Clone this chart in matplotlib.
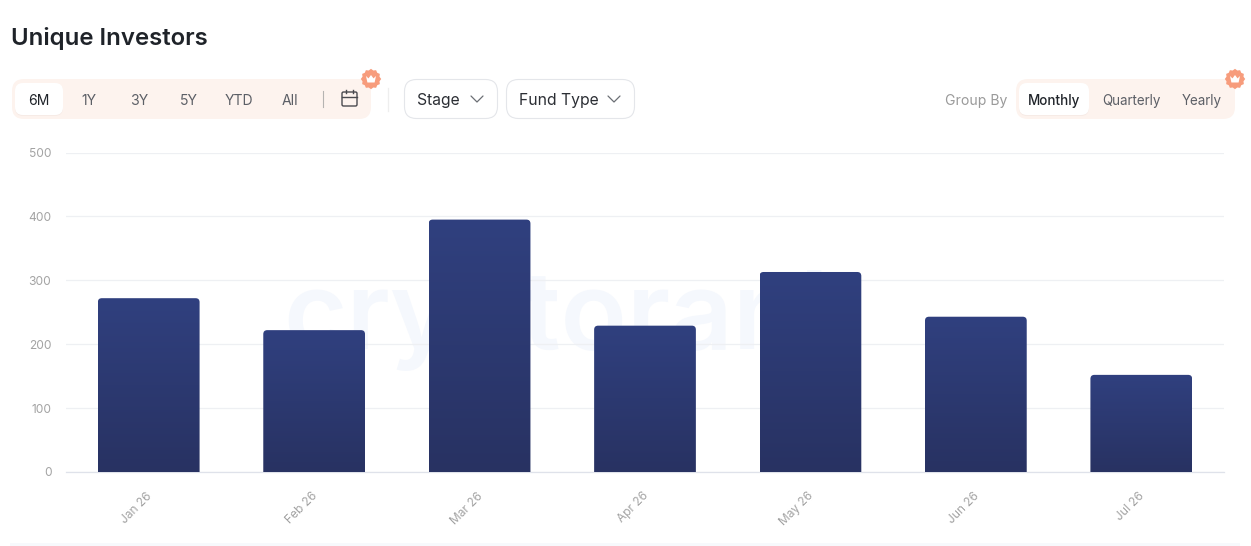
import numpy as np
import matplotlib
matplotlib.use("Agg")
import matplotlib.pyplot as plt
from matplotlib.patches import FancyBboxPatch, PathPatch, Rectangle
from matplotlib.path import Path
from matplotlib.colors import LinearSegmentedColormap
from matplotlib.transforms import ScaledTranslation

months = ["Jan 26", "Feb 26", "Mar 26", "Apr 26", "May 26", "Jun 26", "Jul 26"]
investors = [272, 222, 395, 229, 313, 243, 152]
y_ticks = [0, 100, 200, 300, 400, 500]
range_buttons = ["6M", "1Y", "3Y", "5Y", "YTD", "All"]
group_buttons = ["Monthly", "Quarterly", "Yearly"]

W, H = 1251, 546
plt.rcParams["font.family"] = ["Inter", "Noto Sans", "DejaVu Sans"]


def px(size):
    # css pixels to points at dpi 100
    return size * 0.72


fig = plt.figure(figsize=(W / 100, H / 100), dpi=100, facecolor="white")

# page layer, everything here is in pixels
ui = fig.add_axes([0, 0, 1, 1], zorder=0)
ui.set_xlim(0, W)
ui.set_ylim(H, 0)
ui.axis("off")


def box(x0, y0, x1, y1, r, face, edge="none", lw=0, z=2):
    p = FancyBboxPatch((x0 + r, y0 + r), x1 - x0 - 2 * r, y1 - y0 - 2 * r,
                       boxstyle=f"round,pad={r},rounding_size={r}",
                       fc=face, ec=edge, lw=lw, zorder=z)
    ui.add_patch(p)


def label(x, y, s, size, color, weight="normal", ha="center"):
    ui.text(x, y, s, fontsize=px(size), color=color, weight=weight,
            ha=ha, va="center_baseline", zorder=5)


def chevron(x, y):
    ui.plot([x - 6, x, x + 6], [y - 3, y + 3, y - 3], color="#6b6f75", lw=0.9,
            solid_capstyle="round", solid_joinstyle="round", zorder=5)


def badge(x, y):
    ang = np.linspace(0, 2 * np.pi, 25)
    rad = np.where(np.arange(25) % 2 == 0, 10.2, 8.8)
    ui.fill(x + rad * np.sin(ang), y - rad * np.cos(ang), color="#f79c7c", lw=0, zorder=6)
    cx = np.array([-5, -2.5, 0, 2.5, 5, 3.6, -3.6])
    cy = np.array([-3, -0.6, -4, -0.6, -3, 3.5, 3.5])
    ui.fill(x + cx, y + cy, color="white", lw=0, zorder=7)


# watermark sits behind the grid and bars
ui.text(283, 349, "cryptorank", fontsize=px(109), color="#f5f8fd", weight="semibold",
        ha="left", va="baseline", zorder=1)

label(11, 36, "Unique Investors", 24, "#1f2329", weight="semibold", ha="left")

# period selector
box(12, 79, 371, 119, 12, "#fdf3ee")
box(15, 84, 63, 116, 8, "#f6ebe6", z=2.5)
box(15, 83, 63, 115, 8, "white", z=3)
range_x = [39, 89, 139, 189, 239, 290]
for i, name in enumerate(range_buttons):
    label(range_x[i], 99.5, name, 14, "#1f2329" if i == 0 else "#5c5f66")
ui.plot([322.5, 322.5], [91, 107], color="#b5b3b1", lw=0.8, zorder=5)
box(342, 92, 357, 106, 1.5, "none", edge="#4a4a4f", lw=1.0, z=5)
ui.plot([342, 357], [96.5, 96.5], color="#4a4a4f", lw=1.0, zorder=5)
ui.plot([346, 346], [90, 93], color="#4a4a4f", lw=1.0, zorder=5)
ui.plot([353, 353], [90, 93], color="#4a4a4f", lw=1.0, zorder=5)
badge(371, 79)

ui.plot([387.5, 387.5], [88, 111], color="#eeeeee", lw=0.9, zorder=2)

# dropdowns
box(404.5, 79.5, 497.5, 118.5, 12, "white", edge="#e4e6ea", lw=0.8)
label(417, 99.5, "Stage", 15.7, "#2b2e34", ha="left")
chevron(477, 99)
box(506.5, 79.5, 634.5, 118.5, 12, "white", edge="#e4e6ea", lw=0.8)
label(519, 99.5, "Fund Type", 15.7, "#2b2e34", ha="left")
chevron(614, 99)

# group by selector
label(945, 99.5, "Group By", 14, "#9a9a9a", ha="left")
box(1016, 79, 1235, 119, 12, "#fdf3ee")
box(1019, 84, 1089, 116, 8, "#f6ebe6", z=2.5)
box(1019, 83, 1089, 115, 8, "white", z=3)
group_x = [1054, 1131, 1201.5]
for i, name in enumerate(group_buttons):
    label(group_x[i], 99.5, name, 13.4, "#1f2329" if i == 0 else "#5c5f66",
          weight="medium" if i == 0 else "normal")
badge(1235, 79)

# faint strip along the bottom edge
ui.add_patch(Rectangle((10, 543), 1230, 3, fc="#f7f9fc", ec="none", zorder=1))

# chart
left, right, top, bottom = 66, 1224, 152.5, 472
ax = fig.add_axes([left / W, 1 - bottom / H, (right - left) / W, (bottom - top) / H], zorder=1)
ax.patch.set_alpha(0)
ax.set_xlim(-0.5, len(months) - 0.5)
ax.set_ylim(0, 500)
for s in ax.spines.values():
    s.set_visible(False)
ax.spines["bottom"].set_visible(True)
ax.spines["bottom"].set_color("#dfe2ea")
ax.spines["bottom"].set_linewidth(0.9)
ax.yaxis.grid(True, color="#eef0f3", lw=0.9)
ax.set_axisbelow(True)

ax.set_yticks(y_ticks)
ax.set_xticks(range(len(months)))
ax.set_xticklabels(months, rotation=45, ha="right", rotation_mode="anchor")
ax.tick_params(axis="both", length=0, labelcolor="#a3a3a3", labelsize=px(12))
ax.tick_params(axis="y", pad=10.5)
ax.tick_params(axis="x", pad=13)
shift = ScaledTranslation(-3 / 100, 0, fig.dpi_scale_trans)
for t in ax.get_xticklabels():
    t.set_transform(t.get_transform() + shift)

cmap = LinearSegmentedColormap.from_list("bar", ["#30407f", "#283262"])
grad = np.linspace(0, 1, 256).reshape(-1, 1)
bars = ax.bar(range(len(months)), investors, width=0.615, color="none")
rx = 4 / ((right - left) / len(months))
ry = 4 / ((bottom - top) / 500)
for b in bars:
    x0, x1 = b.get_x(), b.get_x() + b.get_width()
    h = b.get_height()
    # rounded top corners only
    verts = [(x0, 0), (x0, h - ry), (x0, h), (x0 + rx, h), (x1 - rx, h), (x1, h),
             (x1, h - ry), (x1, 0), (x0, 0)]
    codes = [Path.MOVETO, Path.LINETO, Path.CURVE3, Path.CURVE3, Path.LINETO,
             Path.CURVE3, Path.CURVE3, Path.LINETO, Path.CLOSEPOLY]
    clip = PathPatch(Path(verts, codes), fc="none", ec="none", transform=ax.transData)
    ax.add_patch(clip)
    im = ax.imshow(grad, extent=(x0, x1, 0, h), origin="upper", cmap=cmap,
                   aspect="auto", zorder=3)
    im.set_clip_path(clip)
ax.set_xlim(-0.5, len(months) - 0.5)
ax.set_ylim(0, 500)

fig.savefig("out.png", dpi=100)
